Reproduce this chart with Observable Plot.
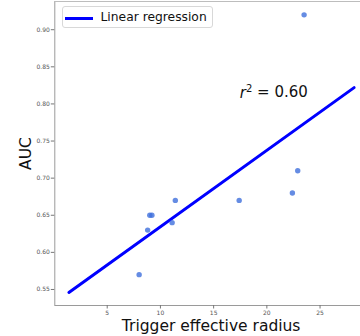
<!DOCTYPE html>
<html>
<head>
<meta charset="utf-8">
<script src="https://cdn.jsdelivr.net/npm/d3@7"></script>
<script src="https://cdn.jsdelivr.net/npm/@observablehq/plot@0.6"></script>
<style>
  html, body { margin: 0; padding: 0; background: #fff; }
  #wrap { position: relative; width: 360px; height: 336px; overflow: hidden; font-family: "DejaVu Sans", sans-serif; }
  #legend { position: absolute; left: 61.5px; top: 6px; width: 151px; height: 22px; box-sizing: border-box;
            border: 1px solid #d8d8d8; border-radius: 3px; background: rgba(255,255,255,0.85); }
  #legend .swatch { position: absolute; left: 2px; top: 9.5px; width: 28px; height: 3px; background: #0000ff; }
  #legend .lbl { position: absolute; left: 38px; top: 2px; font-size: 12.3px; line-height: 16px; color: #111; white-space: nowrap; }
</style>
</head>
<body>
<div id="wrap"></div>
<script>
// Data
const radius = [8.0, 8.8, 9.0, 9.2, 11.1, 11.4, 17.4, 22.4, 22.9, 23.5];
const auc    = [0.57, 0.63, 0.65, 0.65, 0.64, 0.67, 0.67, 0.68, 0.71, 0.92];
const fitX = [1.4, 28.2];
const fitY = [0.546, 0.822];
const xTicks = [5, 10, 15, 20, 25];
const yTicks = [0.55, 0.60, 0.65, 0.70, 0.75, 0.80, 0.85, 0.90];
const r2Label = "0.60";
const xLabel = "Trigger effective radius";
const yLabel = "AUC";
const legendLabel = "Linear regression";

const points = radius.map((x, i) => ({x, y: auc[i]}));
const fit = fitX.map((x, i) => ({x, y: fitY[i]}));

const xDom = [0.075, 28.8];
const yDom = [0.5284, 0.938];

const chart = Plot.plot({
  width: 360,
  height: 336,
  marginLeft: 54.3,
  marginRight: 0,
  marginTop: 1,
  marginBottom: 31,
  style: {fontFamily: "DejaVu Sans, sans-serif", background: "#fff", overflow: "visible"},
  x: {domain: xDom},
  y: {domain: yDom},
  marks: [
    Plot.ruleX([xDom[0]], {stroke: "#9a9a9a", strokeWidth: 1}),
    Plot.ruleY([yDom[0]], {stroke: "#9a9a9a", strokeWidth: 1}),
    Plot.ruleY([yDom[1]], {stroke: "#bdbdbd", strokeWidth: 1}),
    Plot.axisX({ticks: xTicks, tickSize: 3.5, tickPadding: 1.5, fontSize: 6, color: "#555", stroke: "#777", label: null, tickFormat: d => String(d)}),
    Plot.axisY({ticks: yTicks, tickSize: 3.5, tickPadding: 1.5, fontSize: 6, color: "#555", stroke: "#777", label: null, tickFormat: d => d.toFixed(2)}),
    Plot.line(fit, {x: "x", y: "y", stroke: "#0000ff", strokeWidth: 3}),
    Plot.dot(points, {x: "x", y: "y", r: 2.7, fill: "#3f6fdc", fillOpacity: 0.8, stroke: "none"}),
    Plot.text([0], {frameAnchor: "bottom", text: () => xLabel, fontSize: 15.5, fill: "#111", dx: 3.5, dy: 20.7, lineAnchor: "middle", textAnchor: "middle"}),
    Plot.text([0], {frameAnchor: "left", text: () => yLabel, fontSize: 15.5, fill: "#111", rotate: -90, dx: -28.6, lineAnchor: "middle", textAnchor: "middle"})
  ]
});

// r^2 annotation positioned through the plot's own scales
const xs = chart.scale("x"), ys = chart.scale("y");
const svg = d3.select(chart.tagName.toLowerCase() === "svg" ? chart : chart.querySelector("svg"));
const t = svg.append("text")
  .attr("x", xs.apply(20.7))
  .attr("y", ys.apply(0.815))
  .attr("dy", "0.35em")
  .attr("text-anchor", "middle")
  .attr("font-size", 15)
  .attr("fill", "#111");
t.append("tspan").attr("font-style", "italic").text("r");
t.append("tspan").attr("font-size", 10).attr("dy", "-0.55em").text("2");
t.append("tspan").attr("dy", "0.35em").text(" = " + r2Label);

document.getElementById("wrap").appendChild(chart);
const leg = document.createElement("div");
leg.id = "legend";
leg.innerHTML = '<div class="swatch"></div><div class="lbl"></div>';
leg.querySelector(".lbl").textContent = legendLabel;
document.getElementById("wrap").appendChild(leg);
</script>
</body>
</html>
